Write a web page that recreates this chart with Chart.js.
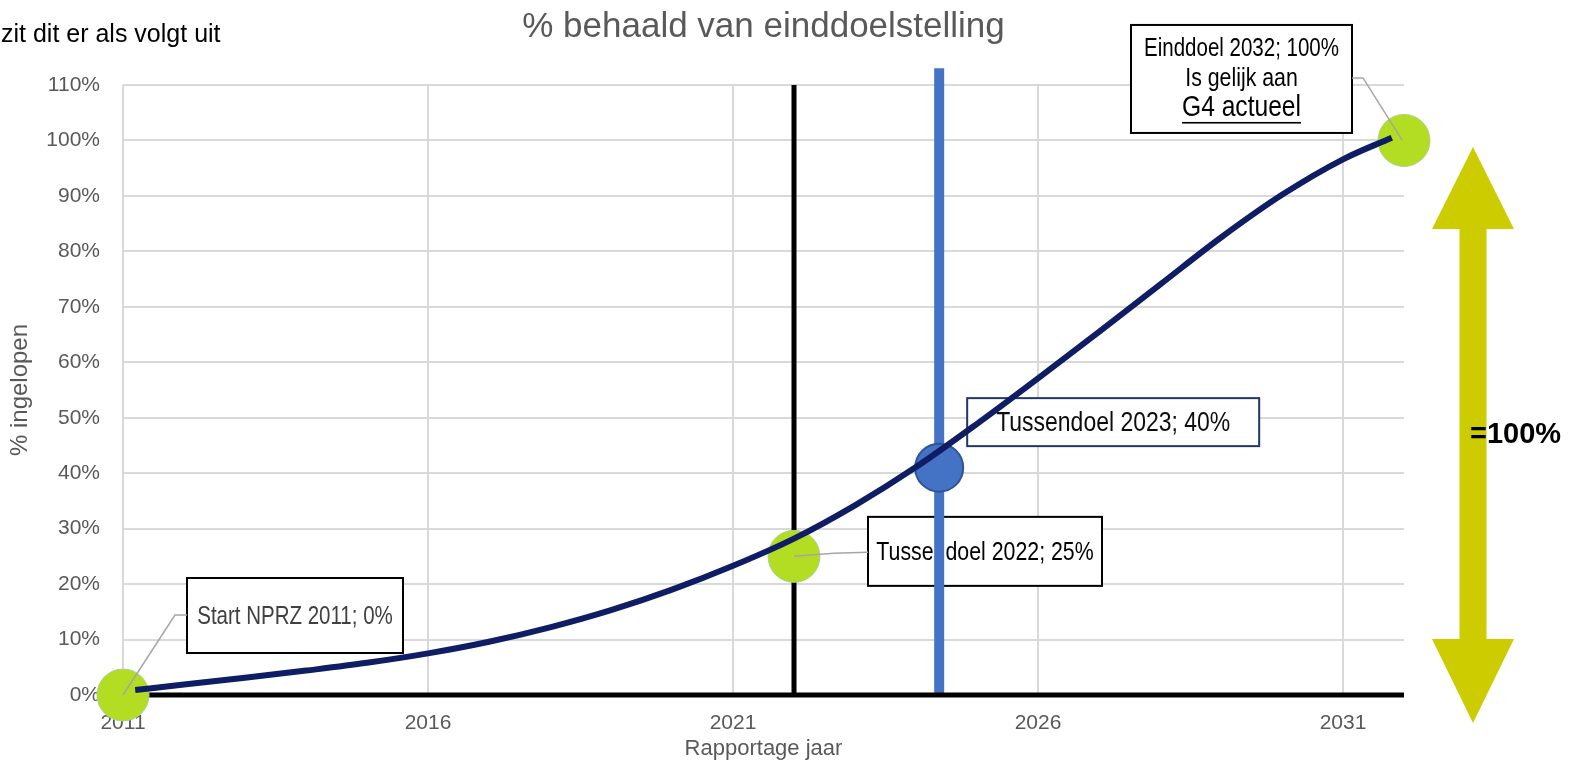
<!DOCTYPE html>
<html>
<head>
<meta charset="utf-8">
<script src="https://cdn.jsdelivr.net/npm/chart.js@4.4.1/dist/chart.umd.min.js"></script>
<style>
html,body{margin:0;padding:0;background:#fff;}
#wrap{width:1577px;height:765px;position:relative;}
</style>
</head>
<body>
<div id="wrap"><canvas id="c" width="1577" height="765"></canvas></div>
<script>
// ---------- DATA ----------
const curveYears  = [2011.2, 2012, 2013, 2014, 2015, 2016, 2017, 2018, 2019, 2020, 2021, 2022, 2023, 2024, 2025, 2026, 2027, 2028, 2029, 2030, 2031, 2031.8];
const curveValues = [0.9, 1.9, 3.1, 4.4, 5.8, 7.5, 9.6, 12.2, 15.3, 19.0, 23.3, 28.2, 34.2, 41.1, 48.9, 57.1, 65.5, 74.0, 82.5, 90.2, 96.6, 100.5];
const milestoneYears  = [2011, 2022, 2032];
const milestoneValues = [0, 25, 100];
const interimYears  = [2024.38];
const interimValues = [41];
const refLineYears  = [2022, 2022];
const refLineValues = [0, 110];
const nowLineYears  = [2024.38, 2024.38];
const nowLineValues = [0, 113];
const baselineYears  = [2011, 2032];
const baselineValues = [0, 0];
const xTickValues = [2011, 2016, 2021, 2026, 2031];
const yTickValues = [0, 10, 20, 30, 40, 50, 60, 70, 80, 90, 100, 110];
const chartTitle = '% behaald van einddoelstelling';
const xTitle = 'Rapportage jaar';
const yTitle = '% ingelopen';
const introText = 'zit dit er als volgt uit';
const arrowText = '=100%';
const labelStart = ['Start NPRZ 2011; 0%'];
const label2022 = ['Tussendoel 2022; 25%'];
const label2023 = ['Tussendoel 2023; 40%'];
const labelEnd = ['Einddoel 2032; 100%', 'Is gelijk aan', 'G4 actueel'];

// ---------- FONTS ----------
function hasFont(name){
  const c = document.createElement('canvas').getContext('2d');
  const t = 'Tussendoel 2023; 40% abcdefghijklmnop';
  c.font = '40px monospace';
  const a = c.measureText(t).width;
  c.font = '40px "' + name + '", monospace';
  return Math.abs(c.measureText(t).width - a) > 0.5;
}
const HAS_NARROW = hasFont('Liberation Sans Narrow');
const NARROW = HAS_NARROW ? '"Liberation Sans Narrow", "Liberation Sans", Arial, sans-serif' : '"Liberation Sans", Arial, sans-serif';
const NSCALE = HAS_NARROW ? 1 : 0.82;
const REG = '"Liberation Sans", Arial, sans-serif';

function drawText(ctx, str, x, y, size, o){
  o = o || {};
  ctx.save();
  const fam = o.family || NARROW;
  const sx = o.family ? 1 : NSCALE;
  ctx.font = (o.bold ? 'bold ' : '') + size + 'px ' + fam;
  ctx.fillStyle = o.color || '#000';
  ctx.textBaseline = o.baseline || 'middle';
  ctx.textAlign = o.align || 'center';
  ctx.translate(x, y);
  ctx.scale(sx, 1);
  ctx.fillText(str, 0, 0);
  if (o.underline){
    const w = ctx.measureText(str).width;
    ctx.fillRect(-w/2, o.underline, w, 1.6);
  }
  ctx.restore();
}

// annotation layout (pixel offsets from the anchored data point)
const boxes = [
  {ax: () => [milestoneYears[0], milestoneValues[0]], dx: 64, dy: -117, w: 216, h: 75, border: '#000', lines: labelStart, sizes: [25], offs: [39], color: '#404040',
   leader: [[0,0],[52,-80],[64,-80]]},
  {ax: () => [milestoneYears[1], milestoneValues[1]], dx: 74, dy: -39.5, w: 234, h: 69, border: '#000', lines: label2022, sizes: [26], offs: [36], color: '#000',
   leader: [[0,0],[40,-3],[74,-4]]},
  {ax: () => [interimYears[0], interimValues[0]], dx: 28, dy: -69.5, w: 292, h: 48, border: '#1f3864', lines: label2023, sizes: [28], offs: [25], color: '#0d0d0d',
   leader: null},
  {ax: () => [milestoneYears[2], milestoneValues[2]], dx: -273, dy: -115.5, w: 221, h: 108, border: '#000', lines: labelEnd, sizes: [25, 26, 30], offs: [24, 54, 83], color: '#000', underlineLast: 14,
   leader: [[-52,-62.5],[-41,-62.5],[-2,-0.5]]}
];

const annotationPlugin = {
  id: 'annot',
  beforeDatasetsDraw(chart){
    const ctx = chart.ctx, xs = chart.scales.x, ys = chart.scales.y;
    boxes.forEach(b => {
      const [vx, vy] = b.ax();
      const X = xs.getPixelForValue(vx) + b.dx, Y = ys.getPixelForValue(vy) + b.dy;
      ctx.save();
      ctx.fillStyle = '#fff';
      ctx.fillRect(X, Y, b.w, b.h);
      ctx.strokeStyle = b.border;
      ctx.lineWidth = 2;
      ctx.strokeRect(X, Y, b.w, b.h);
      ctx.restore();
      b.lines.forEach((t, i) => {
        const ul = (b.underlineLast && i === b.lines.length - 1) ? b.underlineLast : 0;
        drawText(ctx, t, X + b.w/2, Y + b.offs[i], b.sizes[i], {color: b.color, underline: ul});
      });
    });
  },
  afterDatasetsDraw(chart){
    const ctx = chart.ctx, xs = chart.scales.x, ys = chart.scales.y;
    boxes.forEach(b => {
      if (!b.leader) return;
      const [vx, vy] = b.ax();
      const ox = xs.getPixelForValue(vx), oy = ys.getPixelForValue(vy);
      ctx.save();
      ctx.strokeStyle = '#a6a6a6';
      ctx.lineWidth = 1.5;
      ctx.beginPath();
      b.leader.forEach((p, i) => { if (i === 0) ctx.moveTo(ox + p[0], oy + p[1]); else ctx.lineTo(ox + p[0], oy + p[1]); });
      ctx.stroke();
      ctx.restore();
    });
  },
  afterDraw(chart){
    const ctx = chart.ctx, ca = chart.chartArea;
    drawText(ctx, chartTitle, (ca.left + ca.right)/2, 37, 35, {family: REG, color: '#595959', baseline: 'alphabetic'});
    drawText(ctx, introText, 1, 42, 25, {family: REG, color: '#000', baseline: 'alphabetic', align: 'left'});
    const cx = ca.right + 69;
    const tTip = ca.bottom - 548, tBase = ca.bottom - 466, bBase = ca.bottom - 56, bTip = ca.bottom + 28;
    const hw = 41, sw = 13.5;
    ctx.save();
    ctx.fillStyle = '#cccc00';
    ctx.beginPath();
    ctx.moveTo(cx, tTip);
    ctx.lineTo(cx + hw, tBase);
    ctx.lineTo(cx + sw, tBase);
    ctx.lineTo(cx + sw, bBase);
    ctx.lineTo(cx + hw, bBase);
    ctx.lineTo(cx, bTip);
    ctx.lineTo(cx - hw, bBase);
    ctx.lineTo(cx - sw, bBase);
    ctx.lineTo(cx - sw, tBase);
    ctx.lineTo(cx - hw, tBase);
    ctx.closePath();
    ctx.fill();
    ctx.restore();
    drawText(ctx, arrowText, cx - 3, ca.bottom - 260, 29, {family: REG, bold: true, color: '#000', align: 'left'});
  }
};

const pts = (xa, ya) => xa.map((x, i) => ({x: x, y: ya[i]}));

new Chart(document.getElementById('c'), {
  type: 'line',
  data: {
    datasets: [
      {data: pts(curveYears, curveValues), borderColor: '#0f1d64', borderWidth: 6, pointRadius: 0, cubicInterpolationMode: 'monotone', borderCapStyle: 'butt', order: 1, clip: false},
      {data: pts(milestoneYears, milestoneValues), showLine: false, pointRadius: 26, pointBackgroundColor: '#b2dd22', pointBorderColor: '#a9d18e', pointBorderWidth: 1, order: 2, clip: false},
      {data: pts(interimYears, interimValues), showLine: false, pointRadius: 24, pointBackgroundColor: '#4472c4', pointBorderColor: '#2f5597', pointBorderWidth: 2, order: 2, clip: false},
      {data: pts(baselineYears, baselineValues), borderColor: '#000', borderWidth: 5, pointRadius: 0, order: 3, clip: false},
      {data: pts(nowLineYears, nowLineValues), borderColor: '#4472c4', borderWidth: 10, pointRadius: 0, order: 4, clip: false},
      {data: pts(refLineYears, refLineValues), borderColor: '#000', borderWidth: 5, pointRadius: 0, order: 4, clip: false}
    ]
  },
  options: {
    responsive: false,
    animation: false,
    devicePixelRatio: 1,
    events: [],
    layout: {padding: {top: 85, right: 173, left: 0, bottom: 0}},
    plugins: {legend: {display: false}, tooltip: {enabled: false}, title: {display: false}},
    scales: {
      x: {
        type: 'linear', min: 2011, max: 2032,
        afterBuildTicks: s => { s.ticks = xTickValues.map(v => ({value: v})); },
        afterFit: s => { s.height = 70; },
        grid: {color: '#d9d9d9', lineWidth: 2, drawTicks: false},
        border: {display: false},
        ticks: {font: {family: HAS_NARROW ? NARROW : REG, size: HAS_NARROW ? 23 : 21}, color: '#595959', padding: 16, maxRotation: 0, autoSkip: false, callback: v => String(v)},
        title: {display: true, text: xTitle, font: {family: HAS_NARROW ? NARROW : REG, size: HAS_NARROW ? 26 : 22}, color: '#595959', padding: {top: 0, bottom: 3}}
      },
      y: {
        min: 0, max: 110,
        afterBuildTicks: s => { s.ticks = yTickValues.map(v => ({value: v})); },
        afterFit: s => { s.width = 123; },
        grid: {color: '#d9d9d9', lineWidth: 2, drawTicks: false},
        border: {display: false},
        ticks: {font: {family: HAS_NARROW ? NARROW : REG, size: HAS_NARROW ? 24 : 21}, color: '#595959', padding: 23, callback: v => v + '%'},
        title: {display: true, text: yTitle, font: {family: HAS_NARROW ? NARROW : REG, size: HAS_NARROW ? 28 : 24}, color: '#595959', padding: {top: 6, bottom: 0}}
      }
    }
  },
  plugins: [annotationPlugin]
});
</script>
</body>
</html>
